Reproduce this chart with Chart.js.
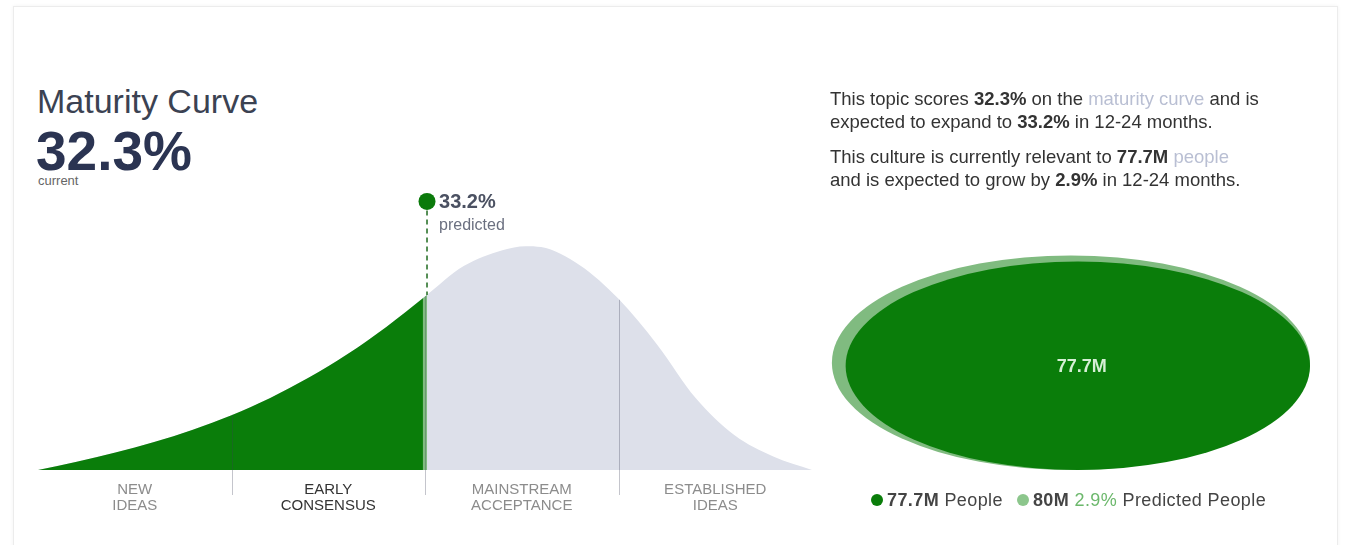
<!DOCTYPE html>
<html>
<head>
<meta charset="utf-8">
<title>Maturity Curve</title>
<script src="https://cdn.jsdelivr.net/npm/chart.js@4.4.1/dist/chart.umd.min.js"></script>
<style>
    html, body { margin: 0; padding: 0; background: #fff; }
    body {
        width: 1347px; height: 545px; position: relative; overflow: hidden;
        font-family: 'Liberation Sans', Arial, sans-serif;
    }
    .card {
        position: absolute; left: 13px; top: 6px; width: 1323px; height: 560px;
        border: 1px solid #ececec; box-shadow: 0 0 4px rgba(0, 0, 0, 0.05);
    }
    .title { position: absolute; left: 37px; top: 84px; font-size: 34px; line-height: 34px; color: #3b4252; white-space: nowrap; }
    .score { position: absolute; left: 36px; top: 124px; font-size: 55px; line-height: 55px; font-weight: bold; color: #2b3452; }
    .current { position: absolute; left: 38px; top: 174px; font-size: 13px; line-height: 13px; color: #666; }
    #curveWrap { position: absolute; left: 0; top: 170px; width: 850px; height: 350px; }
    .summary { position: absolute; left: 830px; top: 88px; font-size: 18.5px; line-height: 22.5px; color: #333; white-space: nowrap; }
    .summary p { margin: 0 0 13px 0; }
    .muted { color: #b9bfd3; }
    #peopleWrap { position: absolute; left: 790px; top: 230px; width: 540px; height: 250px; }
    .legend { position: absolute; left: 871px; top: 490px; font-size: 18px; line-height: 20px; letter-spacing: 0.4px; color: #444; white-space: nowrap; }
    .legend .dot { display: inline-block; width: 12px; height: 12px; border-radius: 50%; vertical-align: 0px; margin-right: 4px; }
    .legend .item + .item { margin-left: 14px; }
    .legend .growth { color: #6cb86c; }
</style>
</head>
<body>
<div class="card"></div>
<div class="title">Maturity Curve</div>
<div class="score" id="scoreText"></div>
<div class="current">current</div>
<div id="curveWrap"><canvas id="curveChart"></canvas></div>

<div class="summary">
    <p>This topic scores <b id="sumCurrent"></b> on the <span class="muted">maturity curve</span> and is<br>
    expected to expand to <b id="sumPredicted"></b> in 12-24 months.</p>
    <p>This culture is currently relevant to <b id="sumPeople"></b> <span class="muted">people</span><br>
    and is expected to grow by <b id="sumGrowth"></b> in 12-24 months.</p>
</div>
<div id="peopleWrap"><canvas id="peopleChart"></canvas></div>
<div class="legend" id="peopleLegend"></div>

<script>
// Maturity curve: position along the adoption axis (0-100) and relative curve height
const curvePositions = [0, 5, 10, 15, 20, 25, 30, 35, 40, 45, 50, 55, 60, 63, 65, 70, 75, 80, 85, 90, 95, 100];
const curveHeights = [0, 3.7, 7.8, 12.5, 18.0, 24.5, 32.2, 41.3, 51.8, 63.9, 77.5, 91.1, 98.2, 100, 99.6, 91.5, 76.5, 56.0, 32.0, 15.5, 6.0, 0];

const stageLabels = [['NEW', 'IDEAS'], ['EARLY', 'CONSENSUS'], ['MAINSTREAM', 'ACCEPTANCE'], ['ESTABLISHED', 'IDEAS']];
const stageCenters = [12.5, 37.5, 62.5, 87.5];
const stageBounds = [25, 50, 75];

const currentScore = 32.3;
const predictedScore = 33.2;

// Audience size (millions): current, predicted
const peopleValues = [77.7, 80];
const peopleLabels = ['People', 'Predicted People'];
const peopleGrowth = 2.9;

const GREEN = '#0a7d0a';
const LIGHT_GREEN = '#80bb80';
const CURVE_GREY = '#dde0ea';
const MARKER_LEVEL = 120;

// Score is the share of the area under the curve, so walk the curve until that share is reached
function scoreToPosition(score) {
    const areas = [0];
    for (let i = 1; i < curvePositions.length; i++) {
        const w = curvePositions[i] - curvePositions[i - 1];
        areas.push(areas[i - 1] + w * (curveHeights[i] + curveHeights[i - 1]) / 2);
    }
    const target = areas[areas.length - 1] * score / 100;
    for (let i = 1; i < areas.length; i++) {
        if (areas[i] >= target) {
            const t = (target - areas[i - 1]) / (areas[i] - areas[i - 1]);
            return curvePositions[i - 1] + t * (curvePositions[i] - curvePositions[i - 1]);
        }
    }
    return 100;
}

function currentStage(pos) {
    let idx = 0;
    stageBounds.forEach(b => { if (pos >= b) idx++; });
    return idx;
}

const currentPos = scoreToPosition(currentScore);
const predictedPos = scoreToPosition(predictedScore);
const activeStage = currentStage(currentPos);

document.getElementById('scoreText').textContent = currentScore + '%';
document.getElementById('sumCurrent').textContent = currentScore + '%';
document.getElementById('sumPredicted').textContent = predictedScore + '%';
document.getElementById('sumPeople').textContent = peopleValues[0] + 'M';
document.getElementById('sumGrowth').textContent = peopleGrowth + '%';

document.getElementById('peopleLegend').innerHTML =
    '<span class="item"><span class="dot" style="background:' + GREEN + '"></span><b>' + peopleValues[0] + 'M</b> ' + peopleLabels[0] + '</span>' +
    '<span class="item"><span class="dot" style="background:#8cc68c"></span><b>' + peopleValues[1] + 'M</b> <span class="growth">' + peopleGrowth + '%</span> ' + peopleLabels[1] + '</span>';

// Green progress, dividers, predicted marker line and label
const maturityOverlay = {
    id: 'maturityOverlay',
    afterDatasetsDraw(chart) {
        const { ctx, chartArea, scales: { x, y } } = chart;
        const line = chart.getDatasetMeta(0).dataset;
        const pts = line.points;
        const base = y.getPixelForValue(0);
        const curX = x.getPixelForValue(currentPos);
        const predX = x.getPixelForValue(predictedPos);

        const traceArea = () => {
            ctx.beginPath();
            line.path(ctx);
            ctx.lineTo(pts[pts.length - 1].x, base);
            ctx.lineTo(pts[0].x, base);
            ctx.closePath();
        };
        const topAt = px => {
            const p = line.interpolate({ x: px }, 'x');
            return p ? p.y : base;
        };

        ctx.save();
        traceArea();
        ctx.clip();
        ctx.fillStyle = GREEN;
        ctx.fillRect(chartArea.left - 2, chartArea.top, curX - chartArea.left + 2, base - chartArea.top + 1);
        ctx.fillStyle = LIGHT_GREEN;
        ctx.fillRect(curX, chartArea.top, predX - curX, base - chartArea.top + 1);
        ctx.restore();

        // stage dividers
        ctx.save();
        ctx.strokeStyle = 'rgba(60, 62, 85, 0.3)';
        ctx.lineWidth = 1;
        stageBounds.forEach(b => {
            const px = Math.round(x.getPixelForValue(b)) + 0.5;
            ctx.beginPath();
            ctx.moveTo(px, topAt(px));
            ctx.lineTo(px, base + 25);
            ctx.stroke();
        });
        ctx.restore();

        // dashed line from the predicted marker down to the curve
        const dotY = y.getPixelForValue(MARKER_LEVEL);
        ctx.save();
        ctx.strokeStyle = '#1f6b1f';
        ctx.lineWidth = 1.5;
        ctx.setLineDash([5, 4]);
        ctx.beginPath();
        ctx.moveTo(predX, dotY + 9);
        ctx.lineTo(predX, topAt(predX));
        ctx.stroke();
        ctx.restore();

        ctx.save();
        ctx.textBaseline = 'middle';
        ctx.fillStyle = '#4b5162';
        ctx.font = 'bold 20px "Liberation Sans", Arial, sans-serif';
        ctx.fillText(predictedScore + '%', predX + 12, dotY + 1);
        ctx.fillStyle = '#6b7080';
        ctx.font = '16px "Liberation Sans", Arial, sans-serif';
        ctx.fillText('predicted', predX + 12, dotY + 24);
        ctx.restore();
    }
};

const curvePoints = curvePositions.map((p, i) => ({ x: p, y: curveHeights[i] }));

new Chart(document.getElementById('curveChart'), {
    type: 'line',
    data: {
        datasets: [{
            data: curvePoints,
            fill: 'origin',
            backgroundColor: CURVE_GREY,
            borderWidth: 0,
            pointRadius: 0,
            cubicInterpolationMode: 'monotone',
            order: 2
        }, {
            data: [{ x: predictedPos, y: MARKER_LEVEL }],
            showLine: false,
            pointRadius: 8.5,
            pointBackgroundColor: '#0b7a0b',
            pointBorderWidth: 0,
            order: 0
        }]
    },
    options: {
        responsive: true,
        maintainAspectRatio: false,
        animation: false,
        layout: { padding: { left: 38, right: 38, top: 9, bottom: 0 } },
        plugins: { legend: { display: false }, tooltip: { enabled: false } },
        scales: {
            x: {
                type: 'linear',
                min: 0,
                max: 100,
                grid: { display: false, drawTicks: false },
                border: { display: false },
                afterBuildTicks: scale => { scale.ticks = stageCenters.map(v => ({ value: v })); },
                afterFit: scale => { scale.height = 50; },
                ticks: {
                    autoSkip: false,
                    maxRotation: 0,
                    padding: 11,
                    font: { family: '"Liberation Sans", Arial, sans-serif', size: 15, lineHeight: 1.12 },
                    color: ctx => ctx.index === activeStage ? '#333' : '#8c8c8c',
                    callback: (value, index) => stageLabels[index]
                }
            },
            y: { display: false, min: 0, max: 130 }
        }
    },
    plugins: [maturityOverlay]
});

// Audience ellipses: each one sits in the bottom-right corner, radius taken from its value
const PEOPLE_SPAN = 170;
const peopleEllipses = {
    id: 'peopleEllipses',
    afterDatasetsDraw(chart) {
        const { ctx, scales: { x, y } } = chart;
        const points = chart.data.datasets[0].data;
        const fills = [LIGHT_GREEN, GREEN];
        const order = points.map((p, i) => i).sort((a, b) => points[b].r - points[a].r);
        order.forEach((i, k) => {
            const p = points[i];
            const cx = x.getPixelForValue(p.x);
            const cy = y.getPixelForValue(p.y);
            const rx = x.getPixelForValue(p.x + p.r) - cx;
            const ry = cy - y.getPixelForValue(p.y + p.r);
            ctx.beginPath();
            ctx.ellipse(cx, cy, rx, ry, 0, 0, Math.PI * 2);
            ctx.fillStyle = fills[k];
            ctx.fill();
        });
        const inner = points[0];
        ctx.save();
        ctx.fillStyle = '#d6efd6';
        ctx.font = 'bold 18px "Liberation Sans", Arial, sans-serif';
        ctx.textAlign = 'center';
        ctx.textBaseline = 'middle';
        ctx.fillText(inner.r + 'M', x.getPixelForValue(inner.x) + 4, y.getPixelForValue(inner.y) + 1);
        ctx.restore();
    }
};

new Chart(document.getElementById('peopleChart'), {
    type: 'scatter',
    data: {
        datasets: [{
            data: peopleValues.map(v => ({ x: PEOPLE_SPAN - v, y: v, r: v })),
            pointRadius: 0
        }]
    },
    options: {
        responsive: true,
        maintainAspectRatio: false,
        animation: false,
        layout: { padding: { left: 12, right: 20, top: 12, bottom: 10 } },
        plugins: { legend: { display: false }, tooltip: { enabled: false } },
        scales: {
            x: { display: false, min: 0, max: PEOPLE_SPAN },
            y: { display: false, min: 0, max: PEOPLE_SPAN }
        }
    },
    plugins: [peopleEllipses]
});
</script>
</body>
</html>
